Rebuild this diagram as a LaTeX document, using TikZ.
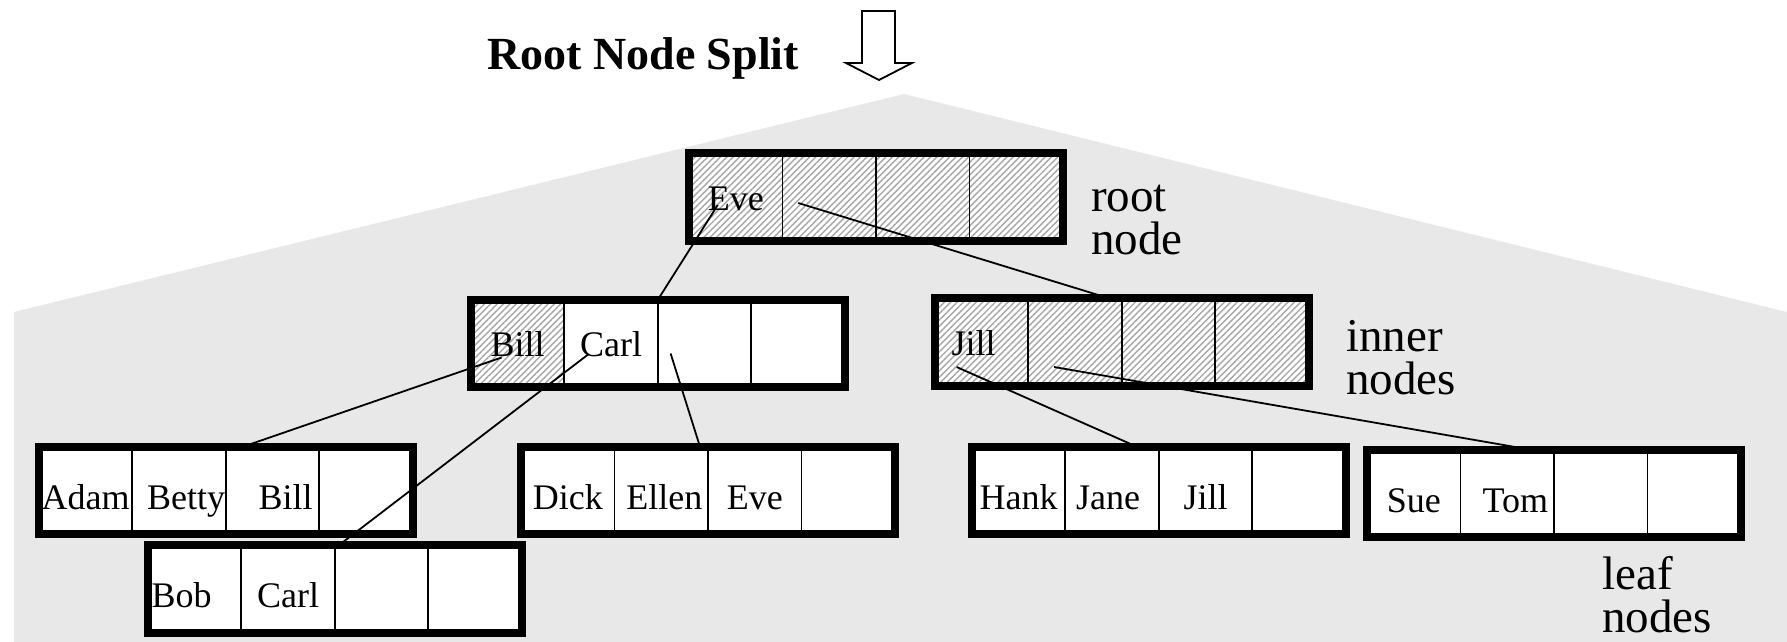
\documentclass[tikz,border=0pt]{standalone}
\usepackage{fontspec}
\setmainfont{Liberation Serif}
\usetikzlibrary{positioning, fit, patterns.meta}

\begin{document}
\begin{tikzpicture}[
        x=1pt, y=-1pt,
        cell/.style={draw, line width=1.8pt, fill=white, minimum width=93.5pt,
          minimum height=87.5pt, inner sep=0pt, outer sep=0pt,
          font=\fontsize{36}{40}\selectfont, text height=26pt, text depth=0pt},
        leaf/.style={cell, text height=37pt},
        tx/.style={execute at begin node={\hspace*{#1}}},
        hatched/.style={preaction={fill=white},
          pattern={Lines[angle=45,distance=4.5pt,line width=1.4pt]}, pattern color=black!35},
        bnode/.style={draw, line width=8pt, inner sep=0pt, outer sep=0pt},
        ptr/.style={line width=1.8pt},
        lvl/.style={font=\fontsize{47}{43}\selectfont, align=left, anchor=base west, inner sep=0pt}
        ]

        \useasboundingbox (0,0) rectangle (1787,642);
        \fill[black!9] (14,642) -- (14,312) -- (904,94) -- (1787,312) -- (1787,642) -- cycle;

        % title and arrow
        \node[font=\fontsize{46}{50}\selectfont\bfseries, anchor=base west, inner sep=0pt] (title) at (487,70) {Root Node Split};
        \draw[line width=1.8pt, fill=white] (862,11) -- (895,11) -- (895,63) -- (912,63) -- (879,80) -- (846,63) -- (862,63) -- cycle;

        % root
        \node[cell, hatched]            (r1) at (735.75,197)     {Eve};
        \node[cell, hatched]            (r2) [right=0pt of r1]   {};
        \node[cell, hatched]            (r3) [right=0pt of r2]   {};
        \node[cell, hatched]            (r4) [right=0pt of r3]   {};
        \node[bnode, fit=(r1)(r4)]      (root)                   {};

        % inner nodes
        \node[cell, hatched]            (ib1) at (517.6,343.5)   {Bill};
        \node[cell]                     (ib2) [right=0pt of ib1] {Carl};
        \node[cell]                     (ib3) [right=0pt of ib2] {};
        \node[cell]                     (ib4) [right=0pt of ib3] {};
        \node[bnode, fit=(ib1)(ib4)]    (ib)                     {};

        \node[cell, hatched, tx=-16pt]  (ij1) at (981.6,342)     {Jill};
        \node[cell, hatched]            (ij2) [right=0pt of ij1] {};
        \node[cell, hatched]            (ij3) [right=0pt of ij2] {};
        \node[cell, hatched]            (ij4) [right=0pt of ij3] {};
        \node[bnode, fit=(ij1)(ij4)]    (ij)                     {};

        % leaf nodes
        \node[leaf]                     (la1) at (85.6,490.5)    {Adam};
        \node[leaf, tx=14pt]            (la2) [right=0pt of la1] {Betty};
        \node[leaf, tx=26pt]            (la3) [right=0pt of la2] {Bill};
        \node[leaf]                     (la4) [right=0pt of la3] {};
        \node[bnode, fit=(la1)(la4)]    (la)                     {};

        \node[leaf, tx=-26pt]           (lb1) at (194.6,589)     {Bob};
        \node[leaf]                     (lb2) [right=0pt of lb1] {Carl};
        \node[leaf]                     (lb3) [right=0pt of lb2] {};
        \node[leaf]                     (lb4) [right=0pt of lb3] {};
        \node[bnode, fit=(lb1)(lb4)]    (lb)                     {};

        \node[leaf]                     (ld1) at (567.75,490.5)  {Dick};
        \node[leaf, tx=6pt]             (ld2) [right=0pt of ld1] {Ellen};
        \node[leaf]                     (ld3) [right=0pt of ld2] {Eve};
        \node[leaf]                     (ld4) [right=0pt of ld3] {};
        \node[bnode, fit=(ld1)(ld4)]    (ld)                     {};

        \node[leaf]                     (lh1) at (1018.6,490.5)  {Hank};
        \node[leaf, tx=-8pt]            (lh2) [right=0pt of lh1] {Jane};
        \node[leaf]                     (lh3) [right=0pt of lh2] {Jill};
        \node[leaf]                     (lh4) [right=0pt of lh3] {};
        \node[bnode, fit=(lh1)(lh4)]    (lh)                     {};

        \node[leaf]                     (ls1) at (1413.75,493.5) {Sue};
        \node[leaf, tx=16pt]            (ls2) [right=0pt of ls1] {Tom};
        \node[leaf]                     (ls3) [right=0pt of ls2] {};
        \node[leaf]                     (ls4) [right=0pt of ls3] {};
        \node[bnode, fit=(ls1)(ls4)]    (ls)                     {};

        % pointers
        \draw[ptr] ([shift={(-18,8)}]r1.center)   -- (ib.north);
        \draw[ptr] ([shift={(-31,6)}]r2.center)   -- ([xshift=-13pt]ij.north);
        \draw[ptr] ([shift={(-16,14)}]ib1.center) -- ([xshift=17pt]la.north);
        \draw[ptr] ([shift={(-23,11)}]ib2.center) -- ([xshift=4pt]lb.north);
        \draw[ptr] ([shift={(-34,10)}]ib3.center) -- ([xshift=-8pt]ld.north);
        \draw[ptr] ([shift={(-25,25)}]ij1.center) -- ([xshift=-22pt]lh.north);
        \draw[ptr] ([shift={(-21,25)}]ij2.center) -- ([xshift=-23pt]ls.north);

        % level labels
        \node[lvl] (rootlbl)  at (1091,254) {root\\node};
        \node[lvl] (innerlbl) at (1346,394) {inner\\nodes};
        \node[lvl] (leaflbl)  at (1602,632) {leaf\\nodes};
\end{tikzpicture}
\end{document}
